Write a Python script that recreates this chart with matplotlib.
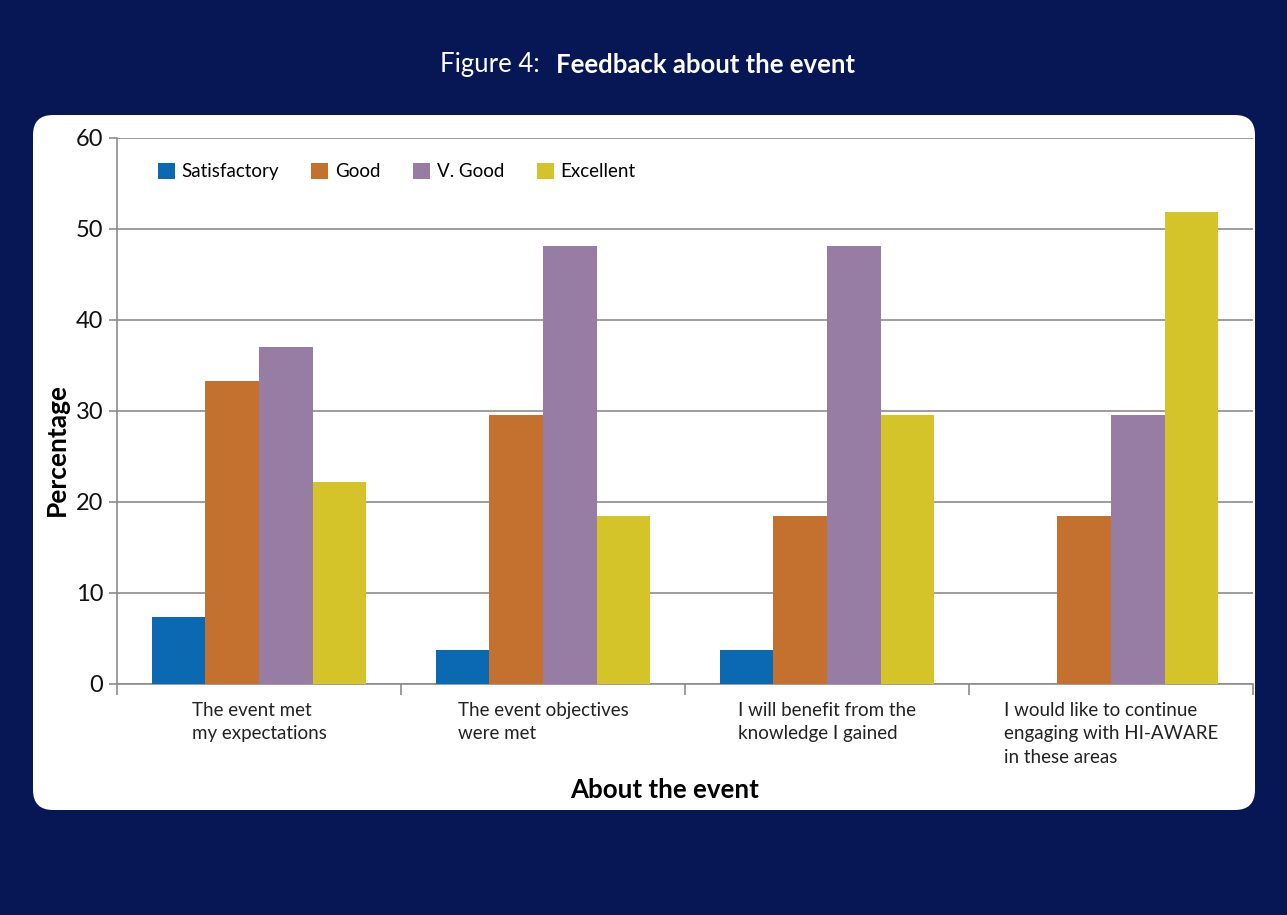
import numpy as np
import matplotlib.pyplot as plt
from matplotlib.patches import FancyBboxPatch

plt.rcParams['font.family'] = ['Lato', 'DejaVu Sans']

# survey responses, percentage of participants
categories = ['The event met\nmy expectations',
              'The event objectives\nwere met',
              'I will benefit from the\nknowledge I gained',
              'I would like to continue\nengaging with HI-AWARE\nin these areas']
ratings = ['Satisfactory', 'Good', 'V. Good', 'Excellent']
satisfactory = [7.4, 3.7, 3.7, 0.0]
good = [33.3, 29.6, 18.5, 18.5]
v_good = [37.0, 48.1, 48.1, 29.6]
excellent = [22.2, 18.5, 29.6, 51.9]

colors = ['#0b69b2', '#c47130', '#977ca3', '#d4c42a']
navy = '#071655'

fig = plt.figure(figsize=(12.87, 9.15), dpi=100)
fig.patch.set_facecolor(navy)

# white rounded panel behind the chart
panel = FancyBboxPatch((0.33, 1.05), 12.22, 6.95,
                       boxstyle='round,pad=0,rounding_size=0.2',
                       transform=fig.dpi_scale_trans,
                       facecolor='white', edgecolor='none', zorder=0)
fig.add_artist(panel)

fig.text(0.4195, 0.929, 'Figure 4:', color='white', fontsize=18.5,
         fontweight='normal', ha='right', va='center')
fig.text(0.432, 0.929, 'Feedback about the event', color='white',
         fontsize=18.5, fontweight='bold', ha='left', va='center')

ax = fig.add_axes([0.0909, 0.2525, 0.8827, 0.5967])
ax.set_facecolor('white')

x = np.arange(len(categories))
width = 0.189
series = [satisfactory, good, v_good, excellent]
for i, (vals, name) in enumerate(zip(series, ratings)):
    ax.bar(x + (i - 1.5) * width, vals, width, color=colors[i],
           label=name, zorder=3)

ax.set_xlim(-0.5, len(categories) - 0.5)
ax.set_ylim(0, 60)
ax.set_yticks(np.arange(0, 61, 10))
ax.yaxis.grid(True, color='#8c8c8c', lw=1.2, zorder=0)

ax.set_xticks(x)
ax.set_xticklabels(categories, fontsize=13.5, multialignment='left',
                   color='#222222', linespacing=1.45)
ax.set_xticks(np.arange(-0.5, len(categories), 1), minor=True)
ax.tick_params(axis='x', which='major', length=0, pad=13)
ax.tick_params(axis='x', which='minor', length=8, color='#8c8c8c',
               width=1.2)
ax.tick_params(axis='y', length=6, color='#8c8c8c', width=1.2,
               labelsize=17, labelcolor='#111111', pad=4)

for side in ['top', 'right']:
    ax.spines[side].set_visible(False)
for side in ['left', 'bottom']:
    ax.spines[side].set_color('#8c8c8c')
    ax.spines[side].set_linewidth(1.2)

ax.text(-0.0528, 0.4286, 'Percentage', transform=ax.transAxes,
        rotation=90, ha='center', va='center', fontsize=19,
        fontweight='bold')
ax.text(0.482, -0.194, 'About the event', transform=ax.transAxes,
        ha='center', va='center', fontsize=18.6, fontweight='bold')

ax.legend(loc='upper left', bbox_to_anchor=(0.021, 0.985), ncol=4,
          frameon=False, fontsize=13.5, handlelength=0.9, handleheight=0.9,
          handletextpad=0.35, columnspacing=1.75)

fig.savefig('out.png', dpi=100, facecolor=navy)
